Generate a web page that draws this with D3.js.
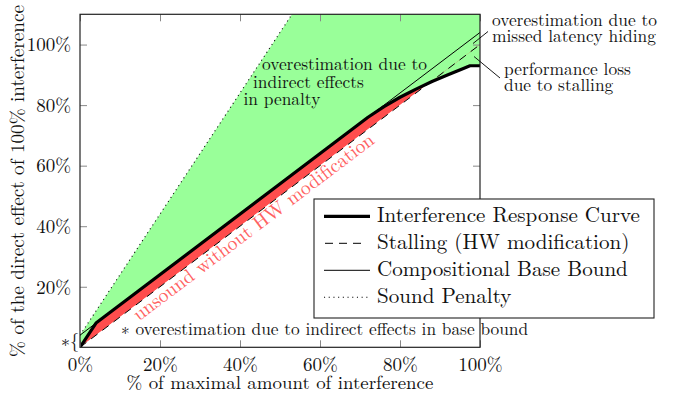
<!DOCTYPE html>
<html><head><meta charset="utf-8">
<script src="https://cdn.jsdelivr.net/npm/d3@7"></script>
<style>
body{margin:0;background:#fff}
svg{display:block}
</style>
</head><body>
<svg id="c" width="673" height="397"></svg>
<script>
// ---------- data ----------
const xTickValues = [0, 0.2, 0.4, 0.6, 0.8, 1.0];
const xTickLabels = ["0%", "20%", "40%", "60%", "80%", "100%"];
const yTickValues = [0.2, 0.4, 0.6, 0.8, 1.0];
const yTickLabels = ["20%", "40%", "60%", "80%", "100%"];

// Interference Response Curve
const ircX = [0, 0.04, 0.72, 0.76, 0.80, 0.84, 0.88, 0.92, 0.96, 0.975, 1.0];
const ircY = [0, 0.08, 0.76, 0.795, 0.826, 0.853, 0.878, 0.90, 0.922, 0.93, 0.93];
// Stalling (HW modification)
const stallX = [0, 1];
const stallY = [0, 1];
// Compositional Base Bound
const baseX = [0, 1];
const baseY = [0.04, 1.04];
// Sound Penalty
const penaltyX = [0, 0.6];
const penaltyY = [0.04, 1.24];

const legendLabels = ["Interference Response Curve", "Stalling (HW modification)",
  "Compositional Base Bound", "Sound Penalty"];
const xTitle = "% of maximal amount of interference";
const yTitle = "% of the direct effect of 100% interference";
const penaltyNote = ["overestimation due to", "indirect effects", "in penalty"];
const latencyNote = ["overestimation due to", "missed latency hiding"];
const stallNote = ["performance loss", "due to stalling"];
const baseNote = "\u2217 overestimation due to indirect effects in base bound";
const unsoundNote = "unsound without HW modification";

// ---------- setup ----------
const FONT = '"Latin Modern Roman","CMU Serif","Liberation Serif",serif';
const svg = d3.select("#c");
const X0 = 80, X1 = 480, Y0 = 347.3, Y1 = 14.3;
const yMax = 1.1;
const x = d3.scaleLinear().domain([0, 1]).range([X0, X1]);
const y = d3.scaleLinear().domain([0, yMax]).range([Y0, Y1]);

const zip = (a, b) => a.map((v, i) => [v, b[i]]);
const irc = zip(ircX, ircY), stall = zip(stallX, stallY), base = zip(baseX, baseY), pen = zip(penaltyX, penaltyY);

const GREEN = "#99ff99", RED = "#ff4d4d", TXTRED = "#ff6262";

const defs = svg.append("defs");
defs.append("clipPath").attr("id", "plotclip").append("rect")
  .attr("x", X0).attr("y", Y1).attr("width", X1 - X0).attr("height", Y0 - Y1);
defs.append("clipPath").attr("id", "abovestall").append("path")
  .attr("d", d3.line().x(d => x(d[0])).y(d => y(d[1]))(stall.concat([[1, yMax], [0, yMax]])) + "Z");

const line = d3.line().x(d => x(d[0])).y(d => y(d[1]));
const g = svg.append("g").attr("clip-path", "url(#plotclip)");

// green area: between penalty line and IRC
const greenPoly = pen.concat([[1, penaltyY[penaltyY.length - 1]]]).concat(irc.slice().reverse());
g.append("path").attr("d", line(greenPoly) + "Z").attr("fill", GREEN);

// red area: between IRC and stalling where IRC above stalling
const redPoly = irc.concat(stall.slice().reverse());
g.append("g").attr("clip-path", "url(#abovestall)")
  .append("path").attr("d", line(redPoly) + "Z").attr("fill", RED);

// lines
g.append("path").attr("d", line(pen)).attr("fill", "none").attr("stroke", "#111")
  .attr("stroke-width", 1.1).attr("stroke-dasharray", "1.1,3.6");
g.append("path").attr("d", line(base)).attr("fill", "none").attr("stroke", "#000").attr("stroke-width", 1);
g.append("path").attr("d", line(stall)).attr("fill", "none").attr("stroke", "#000")
  .attr("stroke-width", 1).attr("stroke-dasharray", "8,6");
g.append("path").attr("d", line(irc)).attr("fill", "none").attr("stroke", "#000")
  .attr("stroke-width", 3.2).attr("stroke-linejoin", "round");

// ---------- axes ----------
const FS = 19;
const axB = svg.append("g").attr("transform", `translate(0,${Y0})`)
  .call(d3.axisBottom(x).tickValues(xTickValues).tickSize(-7).tickPadding(10)
    .tickFormat((d, i) => xTickLabels[i]));
const axT = svg.append("g").attr("transform", `translate(0,${Y1})`)
  .call(d3.axisTop(x).tickValues(xTickValues).tickSize(-7).tickFormat(""));
const axL = svg.append("g").attr("transform", `translate(${X0},0)`)
  .call(d3.axisLeft(y).tickValues(yTickValues).tickSize(-7).tickPadding(9)
    .tickFormat((d, i) => yTickLabels[i]));
const axR = svg.append("g").attr("transform", `translate(${X1},0)`)
  .call(d3.axisRight(y).tickValues(yTickValues).tickSize(-7).tickFormat(""));
[axB, axT, axL, axR].forEach(a => {
  a.select(".domain").remove();
  a.selectAll(".tick line").attr("stroke", "#888").attr("stroke-width", 1);
  a.selectAll("text").style("font-family", FONT).attr("font-size", FS).style("font-size", null);
});
axB.selectAll(".tick text").attr("dy", "0.72em");
axL.selectAll(".tick text").attr("dy", "0.33em");

svg.append("rect").attr("x", X0).attr("y", Y1).attr("width", X1 - X0).attr("height", Y0 - Y1)
  .attr("fill", "none").attr("stroke", "#222").attr("stroke-width", 1.2);

function T(sel) { return sel.style("font-family", FONT); }
// fit helper: scale font size so text spans target width
function fit(sel, w) {
  const fs = parseFloat(sel.attr("font-size"));
  const len = sel.node().getComputedTextLength();
  sel.attr("font-size", fs * w / len);
  return sel;
}

// axis titles
fit(T(svg.append("text")).attr("x", 280).attr("y", 389).attr("text-anchor", "middle")
  .attr("font-size", FS).text(xTitle), 307);
fit(T(svg.append("text")).attr("transform", "translate(24,181) rotate(-90)").attr("text-anchor", "middle")
  .attr("font-size", FS).text(yTitle), 352);

// ---------- annotations ----------
const probe = fit(T(svg.append("text")).attr("x", 262).attr("y", 70).attr("font-size", 16).text(penaltyNote[0]), 165);
const SFS = parseFloat(probe.attr("font-size"));
const pn = [[253, 87.5], [243.5, 105]];
penaltyNote.slice(1).forEach((t, i) => {
  T(svg.append("text")).attr("x", pn[i][0]).attr("y", pn[i][1]).attr("font-size", SFS).text(t);
});
latencyNote.forEach((t, i) => {
  T(svg.append("text")).attr("x", 492).attr("y", 26 + i * 16).attr("font-size", SFS).text(t);
});
stallNote.forEach((t, i) => {
  T(svg.append("text")).attr("x", 504).attr("y", 74.5 + i * 16).attr("font-size", SFS).text(t);
});

// pointer lines
svg.append("line").attr("x1", 488).attr("y1", 31.5).attr("x2", 473).attr("y2", 43.5)
  .attr("stroke", "#000").attr("stroke-width", 0.9);
svg.append("line").attr("x1", 500).attr("y1", 78).attr("x2", 474).attr("y2", 56.5)
  .attr("stroke", "#000").attr("stroke-width", 0.9);

// base-bound footnote
fit(T(svg.append("text")).attr("x", 121).attr("y", 335).attr("font-size", SFS).text(baseNote), 407);
T(svg.append("text")).attr("x", 79).attr("y", 346.5).attr("text-anchor", "end")
  .attr("font-size", 18).text("\u2217{");

// unsound red text
const ang = Math.atan((y(0) - y(1)) / (x(1) - x(0))) * 180 / Math.PI;
fit(T(svg.append("text")).attr("transform", `translate(139,321.5) rotate(${-ang})`)
  .attr("font-size", FS).attr("fill", TXTRED).text(unsoundNote), 297);

// ---------- legend ----------
const LX = 314, LY = 199, LW = 340, LH = 119;
svg.append("rect").attr("x", LX).attr("y", LY).attr("width", LW).attr("height", LH)
  .attr("fill", "#fff").attr("stroke", "#222").attr("stroke-width", 1.1);
const styles = [
  {w: 3.2, dash: null},
  {w: 1, dash: "8,6,8,6,8,60"},
  {w: 1, dash: null},
  {w: 1.1, dash: "1.1,3.6"}
];
let legFS = null;
legendLabels.forEach((t, i) => {
  const by = 222.3 + i * 27;
  svg.append("line").attr("x1", i === 1 ? 325 : 324).attr("x2", 370).attr("y1", by - 6).attr("y2", by - 6)
    .attr("stroke", "#000").attr("stroke-width", styles[i].w)
    .attr("stroke-dasharray", styles[i].dash);
  const s = T(svg.append("text")).attr("x", 377).attr("y", by).attr("font-size", legFS || FS).text(t);
  if (i === 0) { fit(s, 263); legFS = parseFloat(s.attr("font-size")); }
});
svg.selectAll("text").filter(function(){ return !this.getAttribute("fill") || this.getAttribute("fill")==="currentColor"; })
  .attr("fill", "#111");
</script>
</body></html>
